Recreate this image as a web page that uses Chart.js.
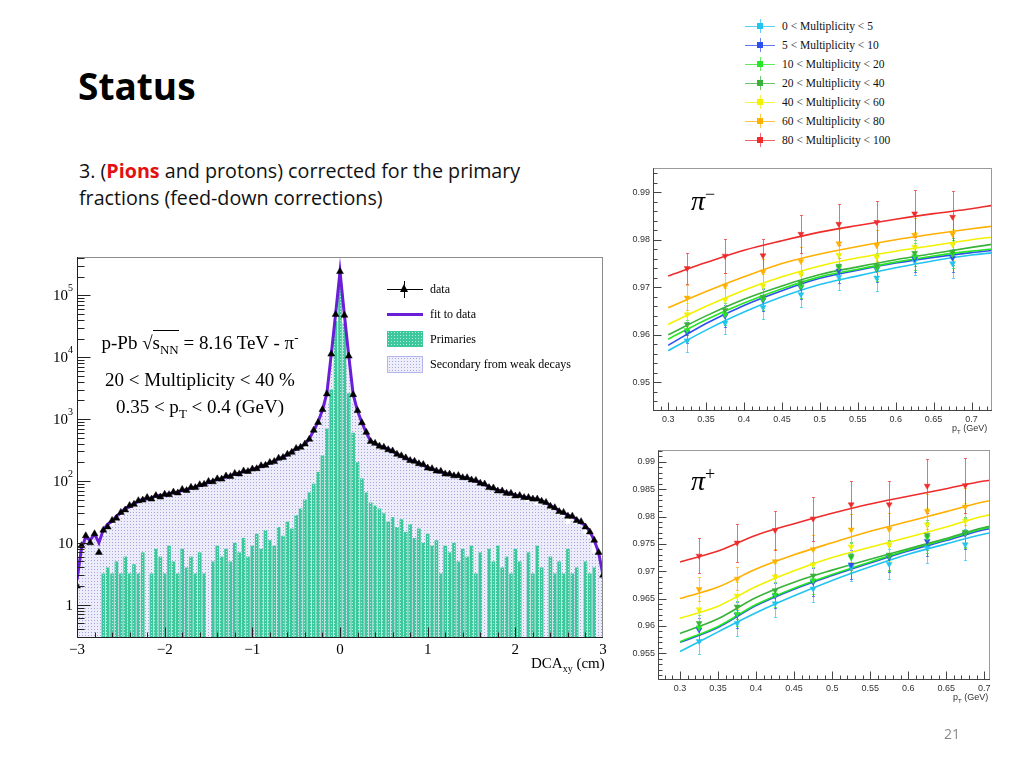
<!DOCTYPE html>
<html>
<head>
<meta charset="utf-8">
<script src="https://cdn.jsdelivr.net/npm/chart.js@4.4.1/dist/chart.umd.min.js"></script>
<style>
    body { margin: 0; background: #fff; }
    #slide { position: relative; width: 1024px; height: 768px; overflow: hidden; font-family: "Open Sans", sans-serif; }
    .abs { position: absolute; }
    canvas.abs { display: block; }
    .title { left: 78px; top: 60px; font: 700 37px "Open Sans", sans-serif; color: #000; }
    .subtitle { left: 79px; top: 158px; font-size: 19.7px; line-height: 26.7px; color: #111; }
    .subtitle b { color: #e31010; }
    .serif { font-family: "Liberation Serif", serif; color: #000; white-space: nowrap; }
    .anno { left: 80px; width: 240px; text-align: center; font-size: 19px; line-height: 22px; }
    .anno sub, .anno sup { font-size: 13px; line-height: 0; }
    .ov { border-top: 1px solid #000; padding-top: 1px; }
    .leg-text { font-size: 12px; line-height: 14px; }
    .mult-row { left: 745px; width: 160px; height: 14px; }
    .mult-row .ln { position: absolute; left: 0; top: 7px; width: 30px; height: 1px; opacity: 0.75; }
    .mult-row .bar { position: absolute; left: 15px; top: 0; width: 1px; height: 14px; opacity: 0.7; }
    .mult-row .sq { position: absolute; left: 12px; top: 4px; width: 6px; height: 6px; }
    .mult-row .tx { position: absolute; left: 37px; top: 0; font: 11.5px/14px "Liberation Serif", serif; color: #111; white-space: nowrap; }
    .pt-label { font: 9px/10px "Liberation Sans", sans-serif; color: #333; white-space: nowrap; }
    .pt-label sub { font-size: 6px; line-height: 0; }
    .pion { font: italic 28px/30px "Liberation Serif", serif; color: #000; }
    .pion sup { font-style: normal; font-size: 18px; line-height: 0; }
    .page { left: 944px; top: 724px; font-size: 14px; color: #8a8a8a; }
</style>
</head>
<body>
<div id="slide">
    <div class="abs title">Status</div>
    <div class="abs subtitle">3. (<b>Pions</b> and protons) corrected for the primary<br>fractions (feed-down corrections)</div>

    <canvas id="dcaChart" class="abs" width="585" height="430" style="left:30px;top:247px"></canvas>
    <canvas id="pimChart" class="abs" width="390" height="275" style="left:615px;top:160px"></canvas>
    <canvas id="pipChart" class="abs" width="390" height="262" style="left:615px;top:442px"></canvas>

    <!-- text inside the DCA plot -->
    <div class="abs serif anno" style="top:332px">p-Pb &radic;<span class="ov">s<sub>NN</sub></span> = 8.16 TeV - &pi;<sup>-</sup></div>
    <div class="abs serif anno" style="top:369px">20 &lt; Multiplicity &lt; 40 %</div>
    <div class="abs serif anno" style="top:396px">0.35 &lt; p<sub>T</sub> &lt; 0.4 (GeV)</div>
    <div class="abs serif" style="left:531px;top:654px;font-size:15px;line-height:18px">DCA<sub style="font-size:10px;line-height:0">xy</sub> (cm)</div>

    <!-- DCA legend -->
    <div class="abs" style="left:387px;top:289px;width:36px;height:1px;background:#000"></div>
    <div class="abs" style="left:404px;top:281px;width:1px;height:17px;background:#000"></div>
    <div class="abs" style="left:400px;top:284px;width:0;height:0;border-left:4.5px solid transparent;border-right:4.5px solid transparent;border-bottom:8px solid #000"></div>
    <div class="abs serif leg-text" style="left:430px;top:282px">data</div>
    <div class="abs" style="left:387px;top:313px;width:36px;height:3px;background:#6a1ed6"></div>
    <div class="abs serif leg-text" style="left:430px;top:307px">fit to data</div>
    <div class="abs" style="left:387px;top:331px;width:36px;height:16px;background:#3cc89c radial-gradient(#b4eedb 35%, transparent 40%) 0 0/3px 3px"></div>
    <div class="abs serif leg-text" style="left:430px;top:332px">Primaries</div>
    <div class="abs" style="left:387px;top:356px;width:34px;height:15px;border:1px solid #b4b4ee;background:#eeeefb radial-gradient(#a8a8e0 35%, transparent 40%) 0 0/3px 3px"></div>
    <div class="abs serif leg-text" style="left:430px;top:357px">Secondary from weak decays</div>

    <!-- right plots labels -->
    <div class="abs pion" style="left:691px;top:186px">&pi;<sup>&minus;</sup></div>
    <div class="abs pion" style="left:691px;top:466px">&pi;<sup>+</sup></div>
    <div class="abs pt-label" style="left:952px;top:423px">p<sub>T</sub> (GeV)</div>
    <div class="abs pt-label" style="left:953px;top:692px">p<sub>T</sub> (GeV)</div>

    <div id="multLegend"></div>
    <div class="abs page">21</div>
</div>

<script>
// ---- DCA_xy template fit (20 < Multiplicity < 40 %, 0.35 < pT < 0.4 GeV) ----
// bins of 0.05 cm centred from -3 to 3
const DCA_FIRST = -3;
const DCA_STEP = 0.05;
const DCA_TICKS = [-3, -2, -1, 0, 1, 2, 3];
const DCA_Y_TICKS = [1, 10, 100, 1000, 10000, 100000];
const DCA_Y_LABELS = ['1', '10', '10^2', '10^3', '10^4', '10^5'];

const DCA_DATA = [
    2, 9, 13, 10, 14, 7, 16, 18, 23, 25,
    31, 34, 40, 42, 48, 49, 54, 51, 58, 55,
    61, 60, 66, 64, 73, 70, 79, 78, 87, 88,
    98, 97, 108, 107, 120, 118, 132, 130, 145, 142,
    156, 158, 176, 179, 199, 206, 233, 240, 270, 290,
    335, 350, 395, 470, 660, 880, 1420, 2550, 11200, 49000,
    241000,
    47500, 10400, 2480, 1370, 870, 610, 435, 405, 365, 350,
    320, 305, 270, 255, 236, 214, 208, 190, 184, 162,
    158, 145, 143, 130, 129, 121, 122, 113, 113, 104,
    102, 92, 89, 78, 77, 69, 69, 63, 63, 57,
    58, 54, 54, 51, 51, 47, 45, 39, 37, 32,
    31, 27, 27, 23, 22, 18, 15, 11, 7, 3
];
const DCA_PRIMARIES = [
    0, 0, 0, 0, 0, 0, 3.2, 4, 3.2, 5,
    3.2, 6, 3.2, 4.5, 3.2, 7, 0, 3.2, 8, 6,
    3.2, 9, 5, 3.2, 8, 4, 6, 3.2, 7, 3.2,
    0, 5, 9, 6, 8, 5, 10, 7, 12, 6,
    9, 14, 8, 16, 11, 9, 18, 13, 22, 17,
    28, 36, 50, 65, 90, 140, 260, 700, 3000, 38000,
    235000,
    36000, 2600, 600, 200, 110, 65, 45, 40, 36, 30,
    22, 26, 18, 24, 15, 20, 12, 17, 10, 14,
    9, 11, 3.2, 9, 7, 10, 5, 8, 6, 9,
    3.2, 7, 0, 8, 5, 9, 4, 6, 3.2, 8,
    5, 0, 7, 3.2, 9, 4, 0, 6, 3.2, 5,
    3.2, 8, 3.2, 4, 0, 5, 3.2, 4, 0, 0
];
const DCA_SECONDARIES = [
    2.5, 8, 12.5, 11, 14, 10, 13, 16, 19, 22,
    27, 30, 35, 39, 43, 44, 51, 50, 49, 52,
    56, 54, 59, 63, 62, 68, 70, 77, 77, 86,
    94, 95, 96, 104, 108, 117, 118, 127, 128, 140,
    143, 148, 164, 167, 184, 201, 210, 232, 243, 278,
    302, 319, 340, 415, 560, 760, 1140, 1900, 8000, 12000,
    5000,
    12000, 7900, 1900, 1150, 770, 535, 395, 360, 334, 315,
    303, 274, 257, 226, 217, 198, 193, 177, 170, 151,
    146, 137, 137, 124, 120, 113, 115, 107, 105, 97,
    97, 87, 87, 72, 70, 62, 64, 59, 59, 51,
    52, 55, 46, 49, 41, 44, 44, 34, 33, 28,
    27, 20, 23, 20, 21, 14, 12, 7, 7, 3
];

// ---- primary fraction vs pT, per multiplicity class ----
const MULT_CLASSES = ['0 < Multiplicity < 5', '5 < Multiplicity < 10', '10 < Multiplicity < 20',
    '20 < Multiplicity < 40', '40 < Multiplicity < 60', '60 < Multiplicity < 80', '80 < Multiplicity < 100'];
const PT_BINS = [0.325, 0.375, 0.425, 0.475, 0.525, 0.575, 0.625, 0.675];
const PT_TICKS = [0.3, 0.35, 0.4, 0.45, 0.5, 0.55, 0.6, 0.65, 0.7];
const PT_TICK_LABELS = ['0.3', '0.35', '0.4', '0.45', '0.5', '0.55', '0.6', '0.65', '0.7'];
const FIT_PT = [0.30, 0.35, 0.40, 0.45, 0.50, 0.55, 0.60, 0.65, 0.70, 0.73];

// pi-
const PIM_Y_TICKS = [0.95, 0.96, 0.97, 0.98, 0.99];
const PIM_Y_LABELS = ['0.95', '0.96', '0.97', '0.98', '0.99'];
const PIM_POINTS = [
    [0.9588, 0.9625, 0.9658, 0.9685, 0.9722, 0.9720, 0.9755, 0.9750],
    [0.9605, 0.9640, 0.9673, 0.9700, 0.9735, 0.9738, 0.9760, 0.9762],
    [0.9610, 0.9643, 0.9675, 0.9702, 0.9742, 0.9740, 0.9765, 0.9770],
    [0.9622, 0.9652, 0.9680, 0.9710, 0.9745, 0.9745, 0.9772, 0.9775],
    [0.9643, 0.9674, 0.9703, 0.9728, 0.9768, 0.9763, 0.9785, 0.9790],
    [0.9678, 0.9703, 0.9733, 0.9755, 0.9792, 0.9788, 0.9810, 0.9812],
    [0.9740, 0.9766, 0.9767, 0.9812, 0.9833, 0.9837, 0.9855, 0.9848]
];
const PIM_ERRORS = [
    [0.0023, 0.0024, 0.0024, 0.0026, 0.0027, 0.0028, 0.0030, 0.0030],
    [0.0022, 0.0023, 0.0023, 0.0025, 0.0026, 0.0027, 0.0028, 0.0029],
    [0.0022, 0.0023, 0.0023, 0.0025, 0.0026, 0.0027, 0.0028, 0.0029],
    [0.0022, 0.0023, 0.0023, 0.0025, 0.0026, 0.0027, 0.0028, 0.0029],
    [0.0024, 0.0025, 0.0025, 0.0027, 0.0028, 0.0030, 0.0031, 0.0032],
    [0.0026, 0.0027, 0.0027, 0.0030, 0.0031, 0.0033, 0.0035, 0.0036],
    [0.0033, 0.0035, 0.0034, 0.0040, 0.0043, 0.0045, 0.0050, 0.0055]
];
const PIM_FITS = [
    [0.9567, 0.9610, 0.9648, 0.9680, 0.9706, 0.9724, 0.9741, 0.9756, 0.9768, 0.9773],
    [0.9578, 0.9624, 0.9662, 0.9693, 0.9719, 0.9736, 0.9751, 0.9763, 0.9773, 0.9778],
    [0.9591, 0.9632, 0.9667, 0.9697, 0.9722, 0.9738, 0.9753, 0.9766, 0.9776, 0.9781],
    [0.9600, 0.9640, 0.9675, 0.9703, 0.9727, 0.9743, 0.9758, 0.9771, 0.9784, 0.9791],
    [0.9622, 0.9660, 0.9694, 0.9722, 0.9745, 0.9762, 0.9776, 0.9788, 0.9800, 0.9806],
    [0.9657, 0.9691, 0.9722, 0.9750, 0.9770, 0.9786, 0.9800, 0.9812, 0.9823, 0.9829],
    [0.9724, 0.9752, 0.9778, 0.9798, 0.9816, 0.9830, 0.9843, 0.9855, 0.9865, 0.9873]
];

// pi+
const PIP_Y_TICKS = [0.955, 0.96, 0.965, 0.97, 0.975, 0.98, 0.985, 0.99];
const PIP_Y_LABELS = ['0.955', '0.96', '0.965', '0.97', '0.975', '0.98', '0.985', '0.99'];
const PIP_POINTS = [
    [0.9572, 0.9605, 0.9641, 0.9668, 0.9708, 0.9713, 0.9743, 0.9749],
    [0.9593, 0.9620, 0.9655, 0.9680, 0.9712, 0.9725, 0.9755, 0.9768],
    [0.9597, 0.9622, 0.9657, 0.9683, 0.9725, 0.9728, 0.9762, 0.9770],
    [0.9605, 0.9635, 0.9665, 0.9692, 0.9728, 0.9730, 0.9766, 0.9772],
    [0.9630, 0.9655, 0.9690, 0.9712, 0.9745, 0.9748, 0.9785, 0.9792],
    [0.9667, 0.9686, 0.9718, 0.9740, 0.9776, 0.9777, 0.9810, 0.9818],
    [0.9728, 0.9752, 0.9775, 0.9796, 0.9822, 0.9822, 0.9856, 0.9857]
];
const PIP_ERRORS = [
    [0.0023, 0.0024, 0.0024, 0.0025, 0.0026, 0.0027, 0.0028, 0.0029],
    [0.0022, 0.0023, 0.0023, 0.0025, 0.0026, 0.0027, 0.0028, 0.0028],
    [0.0022, 0.0023, 0.0023, 0.0025, 0.0026, 0.0027, 0.0028, 0.0028],
    [0.0022, 0.0023, 0.0023, 0.0025, 0.0026, 0.0027, 0.0028, 0.0028],
    [0.0024, 0.0025, 0.0025, 0.0027, 0.0028, 0.0029, 0.0031, 0.0032],
    [0.0022, 0.0021, 0.0023, 0.0026, 0.0028, 0.0030, 0.0032, 0.0034],
    [0.0032, 0.0035, 0.0036, 0.0040, 0.0043, 0.0043, 0.0050, 0.0050]
];
const PIP_FITS = [
    [0.9553, 0.9589, 0.9624, 0.9655, 0.9683, 0.9708, 0.9731, 0.9750, 0.9768, 0.9775],
    [0.9570, 0.9597, 0.9637, 0.9667, 0.9692, 0.9715, 0.9737, 0.9756, 0.9776, 0.9782],
    [0.9571, 0.9599, 0.9639, 0.9669, 0.9694, 0.9717, 0.9739, 0.9758, 0.9778, 0.9785],
    [0.9586, 0.9613, 0.9652, 0.9680, 0.9702, 0.9722, 0.9741, 0.9760, 0.9780, 0.9787],
    [0.9614, 0.9636, 0.9672, 0.9701, 0.9725, 0.9744, 0.9762, 0.9781, 0.9801, 0.9808],
    [0.9650, 0.9671, 0.9704, 0.9730, 0.9752, 0.9773, 0.9791, 0.9809, 0.9827, 0.9833],
    [0.9717, 0.9737, 0.9766, 0.9787, 0.9806, 0.9823, 0.9837, 0.9851, 0.9865, 0.9870]
];

const CLASS_COLORS = ['#20c4ee', '#2e4ff0', '#26e626', '#38b238', '#f2f200', '#ffb000', '#ee2c2c'];

Chart.defaults.font.family = '"Liberation Sans", sans-serif';

// ROOT-like frame with ticks pointing into the pad
const rootAxes = {
    id: 'rootAxes',
    afterDatasetsDraw(chart, args, o) {
        const { ctx, chartArea: a } = chart;
        const xs = chart.scales.x, ys = chart.scales.y;
        const L = Math.round(a.left) + 0.5, B = Math.round(a.bottom) - 0.5;
        ctx.save();
        ctx.lineWidth = 1;
        ctx.strokeStyle = o.frame;
        ctx.strokeRect(L, Math.round(a.top) + 0.5, Math.round(a.right - a.left) - 1, B - Math.round(a.top) - 0.5);
        ctx.strokeStyle = o.axis;
        ctx.beginPath();
        ctx.moveTo(L, a.top);
        ctx.lineTo(L, B);
        ctx.lineTo(a.right, B);
        (o.xTicks || []).forEach(([vals, len]) => vals.forEach(v => {
            const p = Math.round(xs.getPixelForValue(v)) + 0.5;
            if (p < a.left || p > a.right) return;
            ctx.moveTo(p, B);
            ctx.lineTo(p, B - len);
        }));
        (o.yTicks || []).forEach(([vals, len]) => vals.forEach(v => {
            const p = Math.round(ys.getPixelForValue(v)) + 0.5;
            if (p < a.top || p > a.bottom) return;
            ctx.moveTo(L, p);
            ctx.lineTo(L + len, p);
        }));
        ctx.stroke();
        ctx.restore();
    }
};

// 10^n labels with a raised exponent
const logLabels = {
    id: 'logLabels',
    afterDraw(chart, args, o) {
        if (!o.values) return;
        const { ctx, chartArea: a } = chart;
        const ys = chart.scales.y;
        ctx.save();
        ctx.fillStyle = '#000';
        ctx.textAlign = 'right';
        ctx.textBaseline = 'middle';
        o.values.forEach((v, i) => {
            const [base, exp] = o.labels[i].split('^');
            const y = ys.getPixelForValue(v);
            let x = a.left - 4;
            if (exp) {
                ctx.font = '10px "Liberation Serif"';
                ctx.fillText(exp, x, y - 7);
                x -= ctx.measureText(exp).width;
            }
            ctx.font = '15px "Liberation Serif"';
            ctx.fillText(base, x, y + 1);
        });
        ctx.restore();
    }
};

// vertical error bars for datasets that carry an "errors" array
const errorBars = {
    id: 'errorBars',
    beforeDatasetsDraw(chart) {
        const { ctx } = chart;
        const ys = chart.scales.y;
        ctx.save();
        ctx.lineWidth = 1;
        chart.data.datasets.forEach((ds, i) => {
            if (!ds.errors) return;
            const meta = chart.getDatasetMeta(i);
            ctx.strokeStyle = ds.errorColor;
            ctx.beginPath();
            meta.data.forEach((pt, j) => {
                const v = ds.data[j].y, e = ds.errors[j];
                const t = Math.round(ys.getPixelForValue(v + e)) + 0.5;
                const b = Math.round(ys.getPixelForValue(v - e)) + 0.5;
                const x = Math.round(pt.x) + 0.5;
                ctx.moveTo(x, t); ctx.lineTo(x, b);
                ctx.moveTo(x - 1.5, t); ctx.lineTo(x + 1.5, t);
                ctx.moveTo(x - 1.5, b); ctx.lineTo(x + 1.5, b);
            });
            ctx.stroke();
        });
        ctx.restore();
    }
};

function makePattern(bg, dot, size) {
    const c = document.createElement('canvas');
    c.width = c.height = size;
    const g = c.getContext('2d');
    g.fillStyle = bg;
    g.fillRect(0, 0, size, size);
    g.fillStyle = dot;
    g.fillRect(1, 1, 1, 1);
    return g.createPattern(c, 'repeat');
}

function stepList(from, to, step) {
    const out = [];
    for (let k = Math.ceil(from / step - 1e-9); k * step <= to + 1e-9; k++) out.push(+(k * step).toFixed(4));
    return out;
}

// ---------------- DCA chart ----------------
const dcaX = DCA_DATA.map((_, i) => +(DCA_FIRST + i * DCA_STEP).toFixed(3));
const logMinor = [];
[0.1, 1, 10, 100, 1000, 10000, 100000].forEach(d => [2, 3, 4, 5, 6, 7, 8, 9].forEach(m => logMinor.push(m * d)));

new Chart(document.getElementById('dcaChart'), {
    type: 'bar',
    data: {
        datasets: [
            {
                type: 'line', label: 'data', order: 1,
                data: dcaX.map((x, i) => ({ x, y: DCA_DATA[i] })),
                showLine: false, pointStyle: 'triangle', pointRadius: 4,
                pointBackgroundColor: '#000', pointBorderColor: '#000', pointBorderWidth: 0.5
            },
            {
                type: 'line', label: 'fit to data', order: 2,
                data: dcaX.map((x, i) => ({ x, y: DCA_PRIMARIES[i] + DCA_SECONDARIES[i] })),
                borderColor: '#6a1ed6', borderWidth: 3, pointRadius: 0, tension: 0
            },
            {
                type: 'bar', label: 'Primaries', order: 3,
                data: dcaX.map((x, i) => ({ x, y: DCA_PRIMARIES[i] })),
                backgroundColor: makePattern('#3cc89c', '#b4eedb', 3),
                barPercentage: 1, categoryPercentage: 0.82, grouped: false
            },
            {
                type: 'line', label: 'Secondary from weak decays', order: 4,
                data: dcaX.map((x, i) => ({ x, y: DCA_SECONDARIES[i] })),
                stepped: 'middle', fill: 'start', borderWidth: 0, pointRadius: 0,
                backgroundColor: makePattern('#ececfa', '#a6a6de', 3)
            }
        ]
    },
    options: {
        responsive: false,
        animation: false,
        layout: { padding: { top: 10, right: 12, left: 0, bottom: 0 } },
        plugins: {
            legend: { display: false },
            tooltip: { enabled: false },
            rootAxes: {
                frame: '#8c8c8c', axis: '#222',
                xTicks: [[DCA_TICKS, 10], [stepList(-3, 3, 0.2), 5]],
                yTicks: [[DCA_Y_TICKS, 13], [logMinor, 7]]
            },
            logLabels: { values: DCA_Y_TICKS, labels: DCA_Y_LABELS }
        },
        scales: {
            x: {
                type: 'linear', min: -3, max: 3, offset: false,
                grid: { display: false, drawTicks: false, offset: false }, border: { display: false },
                afterBuildTicks: s => { s.ticks = DCA_TICKS.map(v => ({ value: v })); },
                ticks: {
                    autoSkip: false, maxRotation: 0, padding: 3, color: '#000',
                    font: { family: '"Liberation Serif", serif', size: 15 },
                    callback: v => (v < 0 ? '\u2212' + Math.abs(v) : String(v))
                },
                afterFit: s => { s.height = 39; }
            },
            y: {
                type: 'logarithmic', min: 0.29, max: 415000,
                grid: { display: false, drawTicks: false }, border: { display: false },
                ticks: { display: false },
                afterFit: s => { s.width = 47; }
            }
        }
    },
    plugins: [rootAxes, logLabels]
});

// ---------------- primary fraction charts ----------------
function fractionChart(id, points, errors, fits, yTicks, yLabels, xRange, yRange, yWidth, padRight, yMinorStep) {
    const datasets = [];
    CLASS_COLORS.forEach((c, i) => {
        datasets.push({
            label: MULT_CLASSES[i] + ' fit', order: 20 - i,
            data: FIT_PT.map((x, j) => ({ x, y: fits[i][j] })),
            borderColor: c, borderWidth: 1.6, pointRadius: 0,
            tension: 0.4, cubicInterpolationMode: 'monotone'
        });
        datasets.push({
            label: MULT_CLASSES[i], order: 10 - i,
            data: PT_BINS.map((x, j) => ({ x, y: points[i][j] })),
            errors: errors[i], errorColor: c + 'b0',
            showLine: false, pointStyle: 'triangle', rotation: 180, pointRadius: 3.4,
            pointBackgroundColor: c, pointBorderColor: c, pointBorderWidth: 0.5
        });
    });
    return new Chart(document.getElementById(id), {
        type: 'line',
        data: { datasets },
        options: {
            responsive: false,
            animation: false,
            layout: { padding: { top: 5, right: padRight, left: 0, bottom: 0 } },
            plugins: {
                legend: { display: false },
                tooltip: { enabled: false },
                rootAxes: {
                    frame: '#9a9a9a', axis: '#444',
                    xTicks: [[PT_TICKS, 8], [stepList(xRange[0], xRange[1], 0.01), 4]],
                    yTicks: [[yTicks, 8], [stepList(yRange[0], yRange[1], yMinorStep), 4]]
                }
            },
            scales: {
                x: {
                    type: 'linear', min: xRange[0], max: xRange[1],
                    grid: { display: false, drawTicks: false }, border: { display: false },
                    afterBuildTicks: s => { s.ticks = PT_TICKS.map(v => ({ value: v })); },
                    ticks: {
                        autoSkip: false, maxRotation: 0, padding: 3, color: '#333',
                        font: { size: 9 }, callback: (v, i) => PT_TICK_LABELS[i]
                    },
                    afterFit: s => { s.height = 24; }
                },
                y: {
                    type: 'linear', min: yRange[0], max: yRange[1],
                    grid: { display: false, drawTicks: false }, border: { display: false },
                    afterBuildTicks: s => { s.ticks = yTicks.map(v => ({ value: v })); },
                    ticks: {
                        autoSkip: false, padding: 3, color: '#333',
                        font: { size: 9 }, callback: (v, i) => yLabels[i]
                    },
                    afterFit: s => { s.width = yWidth; }
                }
            }
        },
        plugins: [rootAxes, errorBars]
    });
}

fractionChart('pimChart', PIM_POINTS, PIM_ERRORS, PIM_FITS, PIM_Y_TICKS, PIM_Y_LABELS,
    [0.28, 0.727], [0.944, 0.995], 38, 13, 0.002);
fractionChart('pipChart', PIP_POINTS, PIP_ERRORS, PIP_FITS, PIP_Y_TICKS, PIP_Y_LABELS,
    [0.271, 0.7076], [0.9501, 0.9921], 43, 15, 0.001);

// legend of the multiplicity classes (top right of the slide)
const legendHost = document.getElementById('multLegend');
MULT_CLASSES.forEach((name, i) => {
    const row = document.createElement('div');
    row.className = 'abs mult-row';
    row.style.top = (19 + i * 19) + 'px';
    const c = CLASS_COLORS[i];
    row.innerHTML = `<div class="ln" style="background:${c}"></div><div class="bar" style="background:${c}"></div>` +
        `<div class="sq" style="background:${c}"></div><div class="tx">${name.replace(/</g, '&lt;')}</div>`;
    legendHost.appendChild(row);
});
</script>
</body>
</html>
